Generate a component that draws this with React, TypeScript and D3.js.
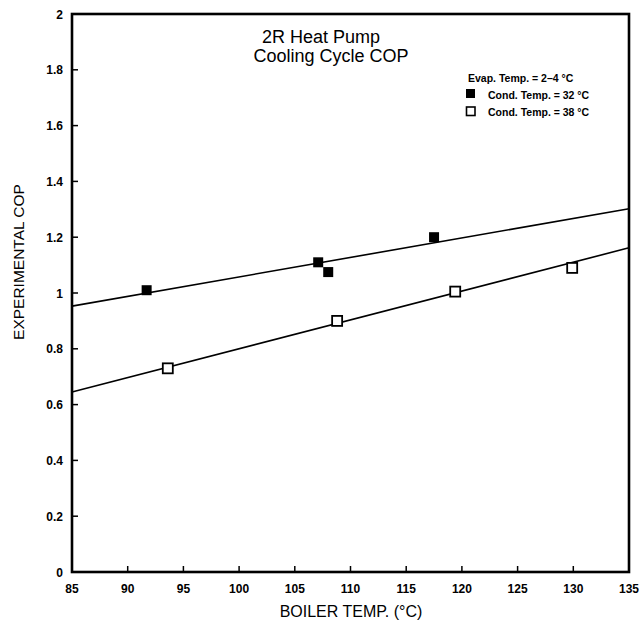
import React from 'react';
import * as d3 from 'd3';

// boiler temp (°C) vs experimental COP
const cond32Temp = [91.7, 107.1, 108.0, 117.5];
const cond32Cop = [1.01, 1.11, 1.075, 1.2];
const cond38Temp = [93.6, 108.8, 119.4, 129.9];
const cond38Cop = [0.73, 0.9, 1.005, 1.09];

// fitted lines as drawn in the figure (ends at 85 and 135 °C)
const fitTemp = [85, 135];
const fit32Cop = [0.953, 1.302];
const fit38Cop = [0.645, 1.162];

const xTicks = [85, 90, 95, 100, 105, 110, 115, 120, 125, 130, 135];
const yTicks = [0, 0.2, 0.4, 0.6, 0.8, 1, 1.2, 1.4, 1.6, 1.8, 2];

const W = 642;
const H = 624;
const m = { left: 72, right: 13, top: 14, bottom: 52 };
const font = '"Liberation Sans", Arial, sans-serif';

export default function App() {
  const x = d3.scaleLinear().domain([85, 135]).range([m.left, W - m.right]);
  const y = d3.scaleLinear().domain([0, 2]).range([H - m.bottom, m.top]);

  const fitPath = (cop: number[]) =>
    d3.line<[number, number]>()
      .x((d) => x(d[0]))
      .y((d) => y(d[1]))(fitTemp.map((t, i) => [t, cop[i]] as [number, number])) || '';

  const sz = 10;

  return (
    <svg width={W} height={H} style={{ position: 'absolute', left: 0, top: 0, background: '#fff' }}>
      <g fontFamily={font} fill="#000">
        {/* fit lines */}
        <path d={fitPath(fit32Cop)} stroke="#000" strokeWidth={1.6} fill="none" />
        <path d={fitPath(fit38Cop)} stroke="#000" strokeWidth={1.6} fill="none" />

        {/* points */}
        {cond32Temp.map((t, i) => (
          <rect key={'f' + i} x={x(t) - sz / 2} y={y(cond32Cop[i]) - sz / 2} width={sz} height={sz} fill="#000" />
        ))}
        {cond38Temp.map((t, i) => (
          <rect key={'o' + i} x={x(t) - sz / 2} y={y(cond38Cop[i]) - sz / 2} width={sz} height={sz}
            fill="#fff" stroke="#000" strokeWidth={1.8} />
        ))}

        {/* frame */}
        <rect x={m.left} y={m.top} width={W - m.left - m.right} height={H - m.top - m.bottom}
          fill="none" stroke="#000" strokeWidth={2.6} />

        {/* y axis ticks */}
        {yTicks.map((v) => (
          <g key={'y' + v}>
            <line x1={m.left} x2={m.left + 6} y1={y(v)} y2={y(v)} stroke="#000" strokeWidth={1.5} />
            <text x={m.left - 9} y={y(v) + 4.5} textAnchor="end" fontSize={12} fontWeight="bold">{v}</text>
          </g>
        ))}

        {/* x axis ticks */}
        {xTicks.map((v) => (
          <g key={'x' + v}>
            <line x1={x(v)} x2={x(v)} y1={H - m.bottom} y2={H - m.bottom - 6} stroke="#000" strokeWidth={1.5} />
            <text x={x(v)} y={H - m.bottom + 21} textAnchor="middle" fontSize={12} fontWeight="bold">{v}</text>
          </g>
        ))}

        {/* axis titles */}
        <text x={351} y={617} textAnchor="middle" fontSize={16} fill="#000">BOILER TEMP. (°C)</text>
        <text transform="translate(24,262) rotate(-90)" textAnchor="middle" fontSize={15.5} fill="#000">EXPERIMENTAL COP</text>

        {/* chart title */}
        <text x={321} y={43} textAnchor="middle" fontSize={18}>2R Heat Pump</text>
        <text x={331} y={62} textAnchor="middle" fontSize={18}>Cooling Cycle COP</text>

        {/* legend */}
        <text x={468} y={82} fontSize={10.5} fontWeight="bold">Evap. Temp. = 2–4 °C</text>
        <rect x={466} y={89} width={9} height={9} fill="#000" />
        <text x={488} y={99} fontSize={10.5} fontWeight="bold">Cond. Temp. = 32 °C</text>
        <rect x={466.5} y={107} width={8.5} height={8.5} fill="#fff" stroke="#000" strokeWidth={1.6} />
        <text x={488} y={116} fontSize={10.5} fontWeight="bold">Cond. Temp. = 38 °C</text>
      </g>
    </svg>
  );
}
